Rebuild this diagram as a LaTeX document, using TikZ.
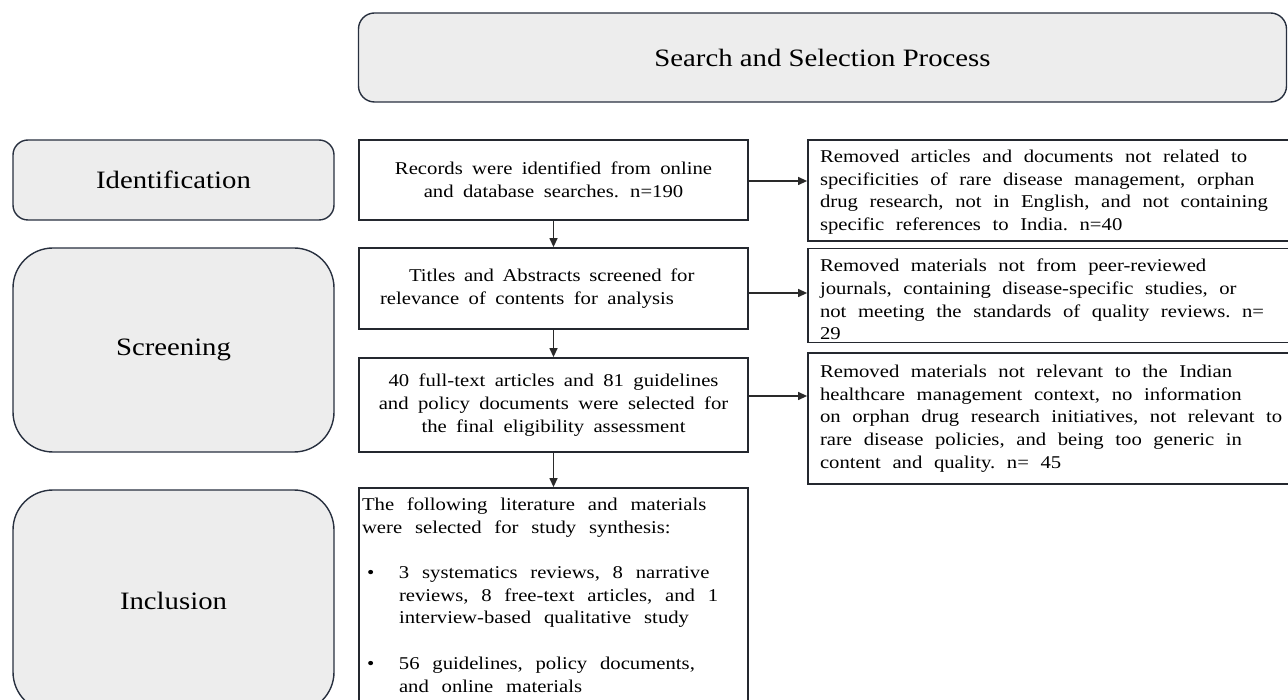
\documentclass[tikz,border=0pt]{standalone}
\usepackage{fontspec}
\setmainfont[FakeStretch=1.15]{Liberation Serif}
\newfontfamily\boxfamily[FakeStretch=1.15,WordSpace=1.82]{Liberation Serif}
\newcommand{\fixsp}[1]{\spaceskip=#1\xspaceskip=#1\relax}
\usetikzlibrary{arrows.meta}
\definecolor{panelfill}{HTML}{EDEDED}
\definecolor{panelline}{HTML}{28303F}
\definecolor{boxline}{HTML}{24282F}
\definecolor{arrowline}{HTML}{2A2A2A}
\tikzset{
  panel/.style={draw=panelline, line width=1.4pt, fill=panelfill, inner sep=0pt,
    font=\fontsize{25}{30}\selectfont},
  stepbox/.style={draw=boxline, line width=1.8pt, fill=white, inner sep=0pt,
    minimum width=389pt, align=center, font=\boxfamily\fontsize{18}{22.7}\selectfont},
  removebox/.style={draw=boxline, line width=1.8pt, fill=white, inner xsep=12pt, inner ysep=0pt,
    text width=470pt, align=left, font=\fontsize{18}{22.7}\selectfont},
  arr/.style={draw=arrowline, line width=1.3pt, -{Triangle[length=9pt,width=8pt]}}
}
\begin{document}
\begin{tikzpicture}[x=1pt,y=-1pt]
\useasboundingbox (0,0) rectangle (1288,700);
\clip (0,0) rectangle (1288,700);

% header and phase panels
\node[panel, rounded corners=16pt, minimum width=928pt, minimum height=89pt] (title) at (822.5,57.5) {Search and Selection Process};
\node[panel, rounded corners=15pt, minimum width=321pt, minimum height=80pt] (ident) at (173.5,180) {Identification};
\node[panel, rounded corners=40pt, minimum width=321pt, minimum height=204pt] (screen) at (173.5,350) {Screening};
\node[panel, rounded corners=40pt, minimum width=321pt, minimum height=222pt] (incl) at (173.5,601) {Inclusion};

% central flow
\node[stepbox, minimum height=80pt] (b1) at (553.5,180) {Records were identified from online\\and database searches. n=190};
\node[stepbox, minimum height=81pt, align=left] (b2) at (553.5,288.5) {\spaceskip=8.6pt plus 2pt minus 1pt\relax\hspace*{29pt}Titles and Abstracts screened for\\relevance of contents for analysis\hspace*{53pt}};
\node[stepbox, minimum height=94pt] (b3) at (553.5,405) {40 full-text articles and 81 guidelines\\and policy documents were selected for\\the final eligibility assessment};
\node[stepbox, minimum height=214pt, align=left, text width=383pt, inner xsep=3pt, font=\fontsize{18}{22.7}\selectfont] (b4) at (553.5,595) {\fixsp{12.8pt}The following literature and materials\\were selected for study synthesis:\\[22.8pt]\hspace*{5pt}\makebox[32pt][l]{\textbullet}3 systematics reviews, 8 narrative\\\hspace*{37pt}reviews, 8 free-text articles, and 1\\\hspace*{37pt}interview-based qualitative study\\[22.8pt]\hspace*{5pt}\makebox[32pt][l]{\textbullet}56 guidelines, policy documents,\\\hspace*{37pt}and online materials};

% removal boxes
\node[removebox, minimum height=101pt] (r1) at (1055,190.5) {\fixsp{11.6pt}\rule{0pt}{16pt}Removed articles and documents not related to\\specificities of rare disease management, orphan\\drug research, not in English, and not containing\\specific references to India. n=40};
\node[removebox, minimum height=94pt] (r2) at (1055,295.5) {\fixsp{11.6pt}\rule{0pt}{21pt}Removed materials not from peer-reviewed\\journals, containing disease-specific studies, or\\not meeting the standards of quality reviews. n=\\29};
\node[removebox, minimum height=131pt] (r3) at (1055,418.5) {\fixsp{11.6pt}Removed materials not relevant to the Indian\\healthcare management context, no information\\on orphan drug research initiatives, not relevant to\\rare disease policies, and being too generic in\\content and quality. n= 45};

% connectors
\draw[arr] (b1.south) -- (b2.north);
\draw[arr] (b2.south) -- (b3.north);
\draw[arr] (b3.south) -- (b4.north);
\draw[arr] ([yshift=-1pt]b1.east) -- ([yshift=-1pt]b1.east -| r1.west);
\draw[arr] ([yshift=-4.5pt]b2.east) -- ([yshift=-4.5pt]b2.east -| r2.west);
\draw[arr] ([yshift=9pt]b3.east) -- ([yshift=9pt]b3.east -| r3.west);
\end{tikzpicture}
\end{document}
